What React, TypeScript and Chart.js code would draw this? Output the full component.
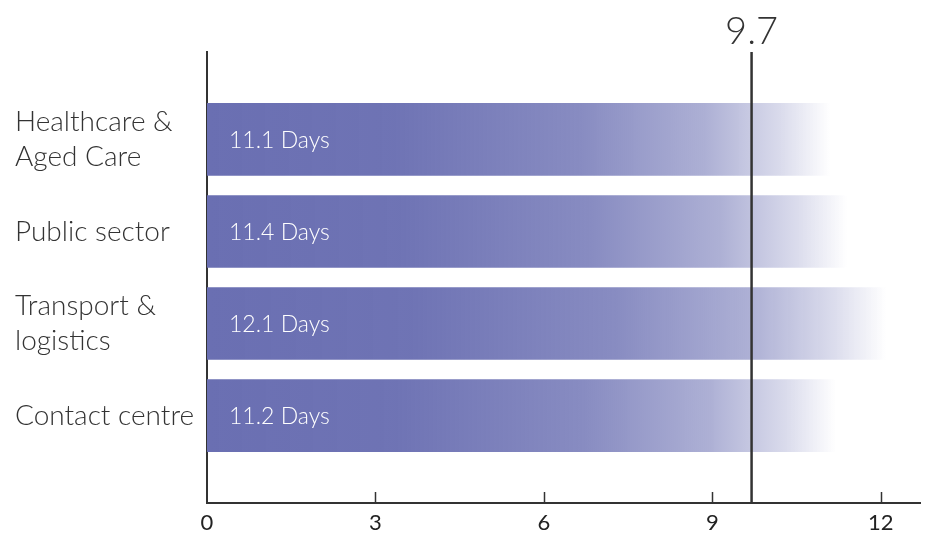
import React, { useEffect, useRef } from "react";
import { Chart, registerables } from "chart.js";

Chart.register(...registerables);

const categories: (string | string[])[] = [
  ["Healthcare &", "Aged Care"],
  "Public sector",
  ["Transport &", "logistics"],
  "Contact centre",
];
const values: number[] = [11.1, 11.4, 12.1, 11.2];
const valueSuffix = " Days";
const xTicks: number[] = [0, 3, 6, 9, 12];
const xMax = 12.7;
const refValue = 9.7;
const refLabel = "9.7";

const FONT = "Lato, 'Source Sans Pro', sans-serif";
const BAR_RGB = "106,111,178";

export default function App() {
  const ref = useRef<HTMLCanvasElement | null>(null);

  useEffect(() => {
    const canvas = ref.current;
    if (!canvas) return;

    const points = values.map((v, i) => ({ x: v, y: i }));

    const overlay = {
      id: "overlay",
      afterDatasetsDraw(chart: any) {
        const ctx = chart.ctx;
        const meta = chart.getDatasetMeta(0);
        ctx.save();
        ctx.fillStyle = "#ffffff";
        ctx.font = `300 23px ${FONT}`;
        ctx.textAlign = "left";
        ctx.textBaseline = "middle";
        meta.data.forEach((bar: any, i: number) => {
          ctx.fillText(`${values[i]}${valueSuffix}`, bar.base + 22, bar.y + 1);
        });
        ctx.restore();
      },
      afterDraw(chart: any) {
        const ctx = chart.ctx;
        const xs = chart.scales.x;
        const ca = chart.chartArea;
        ctx.save();
        ctx.strokeStyle = "#333333";
        ctx.lineWidth = 1.5;
        xTicks.forEach((t) => {
          if (t === 0) return;
          const px = Math.round(xs.getPixelForValue(t)) + 0.5;
          ctx.beginPath();
          ctx.moveTo(px, ca.bottom);
          ctx.lineTo(px, ca.bottom - 11);
          ctx.stroke();
        });
        const rx = xs.getPixelForValue(refValue);
        ctx.lineWidth = 2.5;
        ctx.beginPath();
        ctx.moveTo(rx, ca.top);
        ctx.lineTo(rx, ca.bottom);
        ctx.stroke();
        ctx.fillStyle = "#333333";
        ctx.font = `300 38px ${FONT}`;
        ctx.textAlign = "center";
        ctx.textBaseline = "alphabetic";
        ctx.fillText(refLabel, rx, 44);
        ctx.restore();
      },
    };

    const chart = new Chart(canvas, {
      type: "bar",
      data: {
        datasets: [
          {
            data: points,
            barThickness: 72,
            borderWidth: 0,
            backgroundColor: (c: any) => {
              const chart = c.chart;
              const v = c.raw ? c.raw.x : null;
              const xs = chart.scales?.x;
              if (!chart.chartArea || !xs || v == null) return `rgb(${BAR_RGB})`;
              const x0 = xs.getPixelForValue(0);
              const x1 = xs.getPixelForValue(v);
              const g = chart.ctx.createLinearGradient(x0, 0, x1, 0);
              g.addColorStop(0, `rgba(${BAR_RGB},1)`);
              g.addColorStop(0.3, `rgba(${BAR_RGB},0.97)`);
              g.addColorStop(0.6, `rgba(${BAR_RGB},0.8)`);
              g.addColorStop(0.8, `rgba(${BAR_RGB},0.55)`);
              g.addColorStop(0.92, `rgba(${BAR_RGB},0.25)`);
              g.addColorStop(1, `rgba(${BAR_RGB},0)`);
              return g;
            },
          } as any,
        ],
      },
      options: {
        indexAxis: "y",
        responsive: false,
        animation: false,
        layout: { padding: { left: 15, top: 52, right: 10, bottom: 0 } },
        plugins: { legend: { display: false }, tooltip: { enabled: false } },
        scales: {
          x: {
            type: "linear",
            min: 0,
            max: xMax,
            grid: { display: false, drawTicks: false },
            border: { display: true, color: "#333333", width: 2 },
            afterBuildTicks: (s: any) => {
              s.ticks = xTicks.map((v) => ({ value: v }));
            },
            afterFit: (s: any) => {
              s.height = 31;
              s.paddingLeft = 0;
              s.paddingRight = 0;
            },
            ticks: {
              color: "#222222",
              padding: 7,
              font: { family: FONT, size: 22, weight: "normal" },
            },
          },
          y: {
            type: "linear",
            reverse: true,
            offset: false,
            min: -0.95,
            max: 3.95,
            grid: { display: false, drawTicks: false, offset: false },
            border: { display: true, color: "#333333", width: 2 },
            afterBuildTicks: (s: any) => {
              s.ticks = categories.map((_, i) => ({ value: i }));
            },
            afterFit: (s: any) => {
              s.width = 192;
              s.paddingTop = 0;
              s.paddingBottom = 0;
            },
            ticks: {
              autoSkip: false,
              crossAlign: "far",
              color: "#333333",
              callback: (v: any) => categories[v as number] ?? "",
              font: { family: FONT, size: 28, weight: 300, lineHeight: 1.22 },
            },
          },
        },
      },
      plugins: [overlay],
    } as any);

    return () => chart.destroy();
  }, []);

  return (
    <div style={{ position: "fixed", left: 0, top: 0, width: 930, height: 534, background: "#fff" }}>
      <canvas ref={ref} width={930} height={534} />
    </div>
  );
}
